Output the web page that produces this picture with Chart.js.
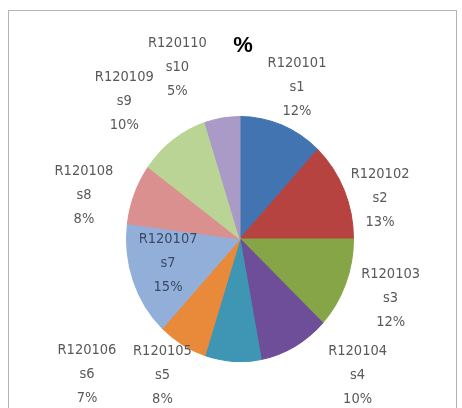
<!DOCTYPE html>
<html>
<head>
<meta charset="utf-8">
<script src="https://cdn.jsdelivr.net/npm/chart.js@4"></script>
<style>
  html, body { margin: 0; padding: 0; background: #fff; }
  #wrap { width: 462px; height: 408px; }
</style>
</head>
<body>
<div id="wrap"><canvas id="pieCanvas" width="462" height="408"></canvas></div>
<script>
// 数据
const codes = ['R120101', 'R120102', 'R120103', 'R120104', 'R120105',
               'R120106', 'R120107', 'R120108', 'R120109', 'R120110'];
const series = ['s1', 's2', 's3', 's4', 's5', 's6', 's7', 's8', 's9', 's10'];
const shares = [12, 13, 12, 10, 8, 7, 15, 8, 10, 5];

const sliceColors = ['#4374b2', '#b6433f', '#86a546', '#6e4e98', '#3f95b4',
                     '#e98a3b', '#92afda', '#db9090', '#b9d495', '#a99ac8'];

// 标签位置：[相对扇区中线的角度偏移(度), 距圆心距离(px)]
const labelPlace = [[-1, 162], [7, 146], [0, 162], [-12, 180], [26, 157],
                    [18, 204], [1, 76], [-6, 162], [-4, 180], [-11, 183]];

const yStretch = 1.08;

const piePlugin = {
    id: 'piePlugin',
    beforeDraw(chart) {
        const ctx = chart.ctx;
        ctx.save();
        ctx.strokeStyle = '#b4b4b4';
        ctx.lineWidth = 1;
        ctx.strokeRect(8.5, 10.5, 448, 430);
        ctx.fillStyle = '#000';
        ctx.font = 'bold 22px "Liberation Sans", Arial, sans-serif';
        ctx.textAlign = 'center';
        ctx.textBaseline = 'middle';
        ctx.fillText('%', 243, 46);
        ctx.restore();
    },
    beforeDatasetsDraw(chart) {
        const arc = chart.getDatasetMeta(0).data[0];
        const ctx = chart.ctx;
        ctx.save();
        ctx.translate(arc.x, arc.y);
        ctx.scale(1, yStretch);
        ctx.translate(-arc.x, -arc.y);
    },
    afterDatasetsDraw(chart) {
        const ctx = chart.ctx;
        ctx.restore();
        const meta = chart.getDatasetMeta(0);
        const total = shares.reduce((s, v) => s + v, 0);
        ctx.save();
        ctx.font = '14.5px "DejaVu Sans Condensed", "Liberation Sans", sans-serif';
        ctx.textAlign = 'center';
        ctx.textBaseline = 'middle';
        meta.data.forEach((a, i) => {
            const mid = (a.startAngle + a.endAngle) / 2 + labelPlace[i][0] * Math.PI / 180;
            const d = labelPlace[i][1];
            const x = a.x + Math.cos(mid) * d;
            const y = a.y + Math.sin(mid) * d;
            ctx.fillStyle = i === 6 ? '#3b4a66' : '#595959';
            const pct = Math.round(shares[i] / total * 100) + '%';
            ctx.fillText(codes[i], x, y - 24);
            ctx.fillText(series[i], x, y);
            ctx.fillText(pct, x, y + 24);
        });
        ctx.restore();
    }
};

const ctx = document.getElementById('pieCanvas').getContext('2d');
new Chart(ctx, {
    type: 'pie',
    data: {
        labels: codes,
        datasets: [{
            data: shares,
            backgroundColor: sliceColors,
            borderColor: sliceColors,
            borderWidth: 1
        }]
    },
    options: {
        responsive: false,
        animation: false,
        layout: {
            padding: { left: 126, right: 108, top: 125, bottom: 55 }
        },
        plugins: {
            legend: { display: false },
            tooltip: { enabled: false },
            title: { display: false }
        }
    },
    plugins: [piePlugin]
});
</script>
</body>
</html>
